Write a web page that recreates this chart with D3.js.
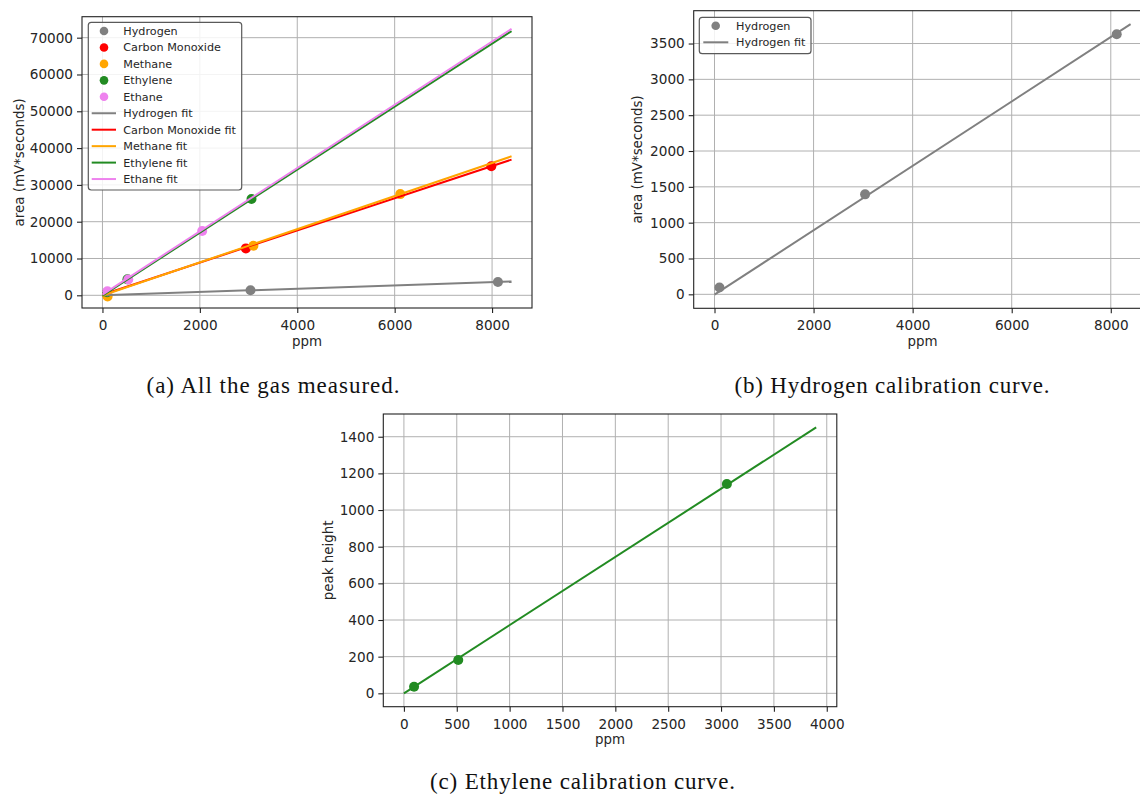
<!DOCTYPE html>
<html>
<head>
<meta charset="utf-8">
<script src="https://cdn.jsdelivr.net/npm/d3@7"></script>
<style>
  html, body { margin: 0; padding: 0; background: #fff; }
  svg { display: block; }
</style>
</head>
<body>
<svg id="fig" width="1140" height="795"></svg>
<script>
// ---- measured calibration data (ppm vs detector response) ----
const hydrogenPpm = [100, 3040, 8120];
const hydrogenArea = [95, 1395, 3630];
const carbonMonoxidePpm = [100, 2945, 7985];
const carbonMonoxideArea = [150, 12750, 35050];
const methanePpm = [105, 3100, 6115];
const methaneArea = [-300, 13450, 27500];
const ethylenePpm = [96, 514, 3060];
const ethyleneArea = [850, 4330, 26150];
const ethanePpm = [102, 530, 2048];
const ethaneArea = [1100, 4300, 17480];

// linear fit end points (ppm range 0..8400)
const fitPpm = [0, 8400];
const hydrogenFitArea = [-5, 3770];
const carbonMonoxideFitArea = [150, 36860];
const methaneFitArea = [-50, 37770];
const ethyleneFitArea = [-100, 71800];
const ethaneFitArea = [200, 72400];

// ethylene peak-height calibration
const ethylenePeakPpm = [96, 514, 3055];
const ethylenePeakHeight = [36, 182, 1142];
const ethylenePeakFitPpm = [0, 3900];
const ethylenePeakFitHeight = [0, 1451];

// tick labels
const ticksAx = [0, 2000, 4000, 6000, 8000];
const ticksAy = [0, 10000, 20000, 30000, 40000, 50000, 60000, 70000];
const ticksBx = [0, 2000, 4000, 6000, 8000];
const ticksBy = [0, 500, 1000, 1500, 2000, 2500, 3000, 3500];
const ticksCx = [0, 500, 1000, 1500, 2000, 2500, 3000, 3500, 4000];
const ticksCy = [0, 200, 400, 600, 800, 1000, 1200, 1400];

const gasNames = ["Hydrogen", "Carbon Monoxide", "Methane", "Ethylene", "Ethane"];
const gasColors = ["#808080", "#ff0000", "#ffa500", "#228b22", "#ee82ee"];

const captions = [
  "(a) All the gas measured.",
  "(b) Hydrogen calibration curve.",
  "(c) Ethylene calibration curve."
];

// ---- drawing ----
const svg = d3.select("#fig");
const TICK_FONT = "DejaVu Sans, sans-serif";
const textColor = "#262626";

function zip(xs, ys) { return xs.map((x, i) => [x, ys[i]]); }

function makePanel(cfg) {
  const x = d3.scaleLinear().domain(cfg.xDomain).range([cfg.left, cfg.right]);
  const y = d3.scaleLinear().domain(cfg.yDomain).range([cfg.bottom, cfg.top]);
  const g = svg.append("g");
  const clipId = "clip" + Math.random().toString(36).slice(2);
  svg.append("clipPath").attr("id", clipId).append("rect")
    .attr("x", cfg.left).attr("y", cfg.top)
    .attr("width", cfg.right - cfg.left).attr("height", cfg.bottom - cfg.top);

  // grid
  const grid = g.append("g").attr("stroke", "#b0b0b0").attr("stroke-width", 1);
  cfg.xTicks.forEach(t => grid.append("line")
    .attr("x1", x(t)).attr("x2", x(t)).attr("y1", cfg.top).attr("y2", cfg.bottom));
  cfg.yTicks.forEach(t => grid.append("line")
    .attr("y1", y(t)).attr("y2", y(t)).attr("x1", cfg.left).attr("x2", cfg.right));

  // axes
  const xAxis = d3.axisBottom(x).tickValues(cfg.xTicks).tickSize(5).tickPadding(4).tickFormat(d3.format("d"));
  const yAxis = d3.axisLeft(y).tickValues(cfg.yTicks).tickSize(5).tickPadding(4).tickFormat(d3.format("d"));
  const gx = g.append("g").attr("transform", `translate(0,${cfg.bottom})`).call(xAxis);
  const gy = g.append("g").attr("transform", `translate(${cfg.left},0)`).call(yAxis);
  [gx, gy].forEach(a => {
    a.select(".domain").remove();
    a.selectAll("line").attr("stroke", "#222").attr("stroke-width", 1.1);
    a.selectAll("text").attr("font-family", TICK_FONT).attr("font-size", 13.6).attr("fill", textColor);
  });
  gx.selectAll("text").attr("dy", "0.95em");

  // frame
  g.append("rect")
    .attr("x", cfg.left).attr("y", cfg.top)
    .attr("width", cfg.right - cfg.left).attr("height", cfg.bottom - cfg.top)
    .attr("fill", "none").attr("stroke", "#222").attr("stroke-width", 1.1);

  // axis labels
  g.append("text")
    .attr("x", (cfg.left + cfg.right) / 2).attr("y", cfg.bottom + 37.5)
    .attr("text-anchor", "middle").attr("font-family", TICK_FONT).attr("font-size", 13.4)
    .attr("fill", textColor).text(cfg.xLabel);
  g.append("text")
    .attr("transform", `translate(${cfg.yLabelX},${(cfg.top + cfg.bottom) / 2}) rotate(-90)`)
    .attr("text-anchor", "middle").attr("dy", "0.35em")
    .attr("font-family", TICK_FONT).attr("font-size", 13.4)
    .attr("fill", textColor).text(cfg.yLabel);

  const plot = g.append("g").attr("clip-path", `url(#${clipId})`);
  return { x, y, g, plot };
}

function drawPoints(p, xs, ys, color) {
  p.plot.append("g").selectAll("circle").data(zip(xs, ys)).join("circle")
    .attr("cx", d => p.x(d[0])).attr("cy", d => p.y(d[1]))
    .attr("r", 5).attr("fill", color);
}
function drawFit(p, xs, ys, color) {
  p.plot.append("path").datum(zip(xs, ys))
    .attr("d", d3.line().x(d => p.x(d[0])).y(d => p.y(d[1])))
    .attr("fill", "none").attr("stroke", color).attr("stroke-width", 2);
}

function drawLegend(box, items) {
  const g = svg.append("g");
  g.append("rect")
    .attr("x", box.x0).attr("y", box.y0)
    .attr("width", box.x1 - box.x0).attr("height", box.y1 - box.y0)
    .attr("rx", 3).attr("fill", "rgba(255,255,255,0.85)")
    .attr("stroke", "#5a5a5a").attr("stroke-width", 1.2);
  items.forEach((it, i) => {
    const cy = box.firstRow + i * box.step;
    if (it.kind === "point") {
      g.append("circle").attr("cx", box.markerX).attr("cy", cy).attr("r", 4.3).attr("fill", it.color);
    } else {
      g.append("line").attr("x1", box.lineX0).attr("x2", box.lineX1)
        .attr("y1", cy).attr("y2", cy).attr("stroke", it.color).attr("stroke-width", 2);
    }
    g.append("text").attr("x", box.textX).attr("y", cy).attr("dy", "0.36em")
      .attr("font-family", TICK_FONT).attr("font-size", 11.2).attr("fill", textColor)
      .text(it.label);
  });
}

// (a) all gases
const pa = makePanel({
  left: 82, right: 532, top: 16.7, bottom: 308,
  xDomain: [-420, 8820], yDomain: [-3450, 75700],
  xTicks: ticksAx, yTicks: ticksAy,
  xLabel: "ppm", yLabel: "area (mV*seconds)", yLabelX: 19
});
const pointSets = [
  [hydrogenPpm, hydrogenArea], [carbonMonoxidePpm, carbonMonoxideArea],
  [methanePpm, methaneArea], [ethylenePpm, ethyleneArea], [ethanePpm, ethaneArea]
];
const fitSets = [hydrogenFitArea, carbonMonoxideFitArea, methaneFitArea, ethyleneFitArea, ethaneFitArea];
pointSets.forEach((s, i) => drawPoints(pa, s[0], s[1], gasColors[i]));
fitSets.forEach((s, i) => drawFit(pa, fitPpm, s, gasColors[i]));
drawLegend(
  { x0: 88.3, x1: 241.7, y0: 22.3, y1: 190, firstRow: 31, step: 16.45,
    markerX: 104, lineX0: 91.7, lineX1: 116, textX: 123.3 },
  gasNames.map((n, i) => ({ kind: "point", color: gasColors[i], label: n }))
    .concat(gasNames.map((n, i) => ({ kind: "line", color: gasColors[i], label: n + " fit" })))
);

// (b) hydrogen
const pb = makePanel({
  left: 693.7, right: 1151.4, top: 10.7, bottom: 308.3,
  xDomain: [-420, 8820], yDomain: [-195, 3958],
  xTicks: ticksBx, yTicks: ticksBy,
  xLabel: "ppm", yLabel: "area (mV*seconds)", yLabelX: 637.5
});
drawPoints(pb, hydrogenPpm, hydrogenArea, gasColors[0]);
drawFit(pb, fitPpm, hydrogenFitArea, gasColors[0]);
drawLegend(
  { x0: 699.3, x1: 811, y0: 17.3, y1: 53.7, firstRow: 25.7, step: 16.6,
    markerX: 715.7, lineX0: 703.3, lineX1: 728.3, textX: 736 },
  [{ kind: "point", color: gasColors[0], label: "Hydrogen" },
   { kind: "line", color: gasColors[0], label: "Hydrogen fit" }]
);

// (c) ethylene peak height
const pc = makePanel({
  left: 383.3, right: 836.8, top: 414, bottom: 706.7,
  xDomain: [-195, 4095], yDomain: [-73, 1524],
  xTicks: ticksCx, yTicks: ticksCy,
  xLabel: "ppm", yLabel: "peak height", yLabelX: 328.5
});
drawPoints(pc, ethylenePeakPpm, ethylenePeakHeight, gasColors[3]);
drawFit(pc, ethylenePeakFitPpm, ethylenePeakFitHeight, gasColors[3]);

// captions
const capPos = [[273, 392.5, 253], [892, 392.5, 315], [582.5, 789, 305]];
captions.forEach((c, i) => {
  svg.append("text")
    .attr("x", capPos[i][0]).attr("y", capPos[i][1])
    .attr("text-anchor", "middle")
    .attr("font-family", "Liberation Serif, serif").attr("font-size", 23)
    .attr("textLength", capPos[i][2]).attr("lengthAdjust", "spacing")
    .attr("fill", "#111").text(c);
});
</script>
</body>
</html>
